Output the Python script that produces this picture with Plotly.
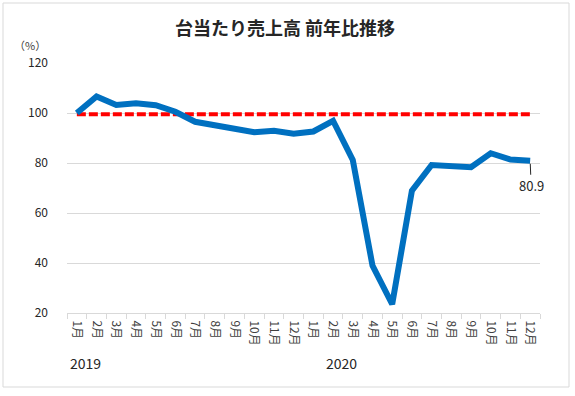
import plotly.graph_objects as go

months = ["1月", "2月", "3月", "4月", "5月", "6月", "7月", "8月", "9月", "10月", "11月", "12月"] * 2
years = ["2019", "2020"]
ratio = [100.0, 106.6, 103.2, 103.9, 103.1, 100.5, 96.5, 95.2, 93.9, 92.3, 92.9, 91.7,
         92.6, 96.9, 81.2, 39.0, 23.5, 68.9, 79.2, 78.8, 78.3, 83.9, 81.4, 80.9]
baseline_value = 99.5
last_label = "80.9"

x_idx = list(range(len(months)))
baseline = [baseline_value] * len(months)

FONT = "Noto Sans CJK JP"
TXT = "#404040"

fig = go.Figure()
fig.add_trace(go.Scatter(x=x_idx, y=baseline, mode="lines",
                         line=dict(color="#FF0000", width=4, dash="9px,3px"),
                         hoverinfo="skip", showlegend=False))
fig.add_trace(go.Scatter(x=x_idx, y=ratio, mode="lines",
                         line=dict(color="#0070C0", width=6),
                         showlegend=False))

fig.update_layout(
    width=575, height=396,
    margin=dict(l=67, r=35, t=63, b=83),
    paper_bgcolor="white", plot_bgcolor="white",
    font=dict(family=FONT, color=TXT, size=12),
    title=dict(text="<b>台当たり売上高 前年比推移</b>", x=285 / 575, xref="container", xanchor="center",
               y=1 - 29 / 396, yref="container", yanchor="middle",
               font=dict(family=FONT, size=18, color="#262626")),
    xaxis=dict(range=[-0.5, len(months) - 0.5], tickmode="array", tickvals=x_idx, ticktext=months,
               tickangle=90, ticks="", showgrid=False, zeroline=False,
               showline=True, linecolor="#d9d9d9", linewidth=1,
               ticklabelstandoff=4,
               tickfont=dict(family=FONT, size=12, color=TXT),
               minor=dict(tickmode="array", tickvals=[i - 0.5 for i in range(len(months) + 1)],
                          ticks="outside", ticklen=5, tickcolor="#d9d9d9", tickwidth=1, showgrid=False)),
    yaxis=dict(range=[20, 120], tickmode="linear", tick0=20, dtick=20, ticks="",
               showgrid=True, gridcolor="#d9d9d9", gridwidth=1, zeroline=False, showline=False,
               ticklabelstandoff=18, tickfont=dict(family=FONT, size=12, color="#262626")),
)

fig.add_annotation(x=(30 - 67) / 473, y=(313 - 45) / 250, xref="paper", yref="paper", text="（%）",
                   showarrow=False, borderpad=0, font=dict(size=11, color=TXT),
                   xanchor="center", yanchor="middle")
fig.add_annotation(x=0.040, y=-0.2, xref="paper", yref="paper", text=years[0], showarrow=False,
                   font=dict(size=14, color="#262626"), xanchor="center", yanchor="middle")
fig.add_annotation(x=0.581, y=-0.2, xref="paper", yref="paper", text=years[1], showarrow=False,
                   font=dict(size=14, color="#262626"), xanchor="center", yanchor="middle")
fig.add_annotation(x=x_idx[-1], y=ratio[-1], xref="x", yref="y", text=last_label,
                   showarrow=True, arrowhead=0, arrowwidth=1, arrowcolor="#262626",
                   ax=1, ay=25, standoff=3,
                   font=dict(size=13, color="#262626"))

fig.add_shape(type="rect", xref="paper", yref="paper",
              x0=(3 - 67) / 473, x1=(569 - 67) / 473, y0=(313 - 387) / 250, y1=(313 - 3) / 250,
              line=dict(color="#d9d9d9", width=1), fillcolor="rgba(0,0,0,0)", layer="below")

fig.write_html("out.html", config={"displayModeBar": False},
               post_script="document.body.style.margin='0px';document.body.style.overflow='hidden';")
